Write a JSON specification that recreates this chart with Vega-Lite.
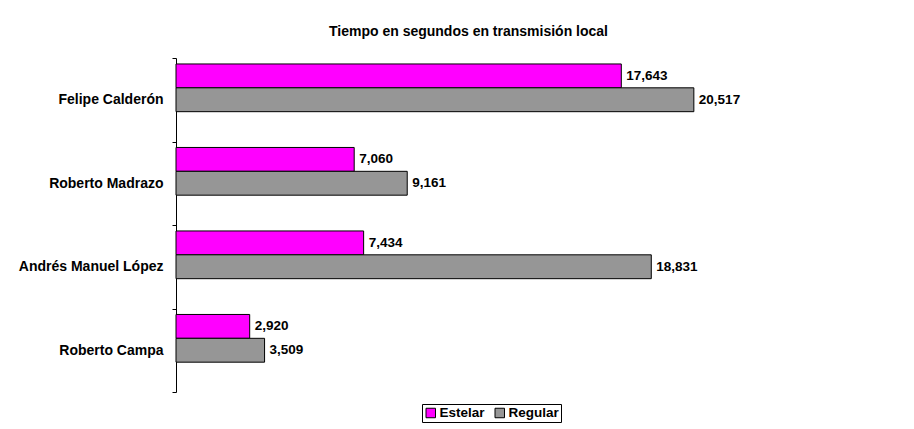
{
  "$schema": "https://vega.github.io/schema/vega-lite/v6.json",
  "width": 631,
  "height": 334,
  "autosize": {"type": "none"},
  "padding": {"left": 176, "top": 58, "right": 107, "bottom": 37},
  "background": "white",
  "config": {
    "view": {"stroke": null},
    "font": "Liberation Sans"
  },
  "title": {
    "text": "Tiempo en segundos en transmisión local",
    "font": "Liberation Sans",
    "fontSize": 14,
    "fontWeight": "bold",
    "color": "black",
    "anchor": "middle",
    "frame": "group",
    "offset": 12,
    "dx": -23
  },
  "data": {
    "values": [
      {"candidato": "Felipe Calderón", "serie": "Estelar", "segundos": 17643},
      {"candidato": "Felipe Calderón", "serie": "Regular", "segundos": 20517},
      {"candidato": "Roberto Madrazo", "serie": "Estelar", "segundos": 7060},
      {"candidato": "Roberto Madrazo", "serie": "Regular", "segundos": 9161},
      {"candidato": "Andrés Manuel López", "serie": "Estelar", "segundos": 7434},
      {"candidato": "Andrés Manuel López", "serie": "Regular", "segundos": 18831},
      {"candidato": "Roberto Campa", "serie": "Estelar", "segundos": 2920},
      {"candidato": "Roberto Campa", "serie": "Regular", "segundos": 3509}
    ]
  },
  "encoding": {
    "y": {
      "field": "candidato",
      "type": "nominal",
      "sort": ["Felipe Calderón", "Roberto Madrazo", "Andrés Manuel López", "Roberto Campa"],
      "scale": {"paddingInner": 0, "paddingOuter": 0},
      "axis": {
        "title": null,
        "tickBand": "extent",
        "domainColor": "black",
        "tickColor": "black",
        "tickSize": 4,
        "labelFont": "Liberation Sans",
        "labelFontSize": 14,
        "labelFontWeight": "bold",
        "labelColor": "black",
        "labelPadding": 9
      }
    },
    "yOffset": {
      "field": "serie",
      "type": "nominal",
      "scale": {"domain": ["Estelar", "Regular", "_"], "paddingInner": 0, "paddingOuter": 0.25}
    },
    "x": {
      "field": "segundos",
      "type": "quantitative",
      "scale": {"domain": [0, 25000]},
      "axis": null
    }
  },
  "layer": [
    {
      "mark": {"type": "bar", "stroke": "black", "strokeWidth": 1},
      "encoding": {
        "color": {
          "field": "serie",
          "type": "nominal",
          "scale": {"domain": ["Estelar", "Regular"], "range": ["#FF00FF", "#969696"]},
          "legend": {
            "title": null,
            "orient": "none",
            "legendX": 246,
            "legendY": 346,
            "direction": "horizontal",
            "strokeColor": "black",
            "padding": 2,
            "symbolType": "square",
            "symbolSize": 90,
            "symbolStrokeColor": "black",
            "symbolStrokeWidth": 1,
            "labelFont": "Liberation Sans",
            "labelFontSize": 13.5,
            "labelFontWeight": "bold",
            "labelColor": "black",
            "labelOffset": 2,
            "columnPadding": 8
          }
        }
      }
    },
    {
      "mark": {
        "type": "text",
        "align": "left",
        "baseline": "middle",
        "dx": 5,
        "font": "Liberation Sans",
        "fontSize": 13.5,
        "fontWeight": "bold",
        "color": "black"
      },
      "encoding": {
        "text": {"field": "segundos", "type": "quantitative", "format": ","}
      }
    }
  ]
}
